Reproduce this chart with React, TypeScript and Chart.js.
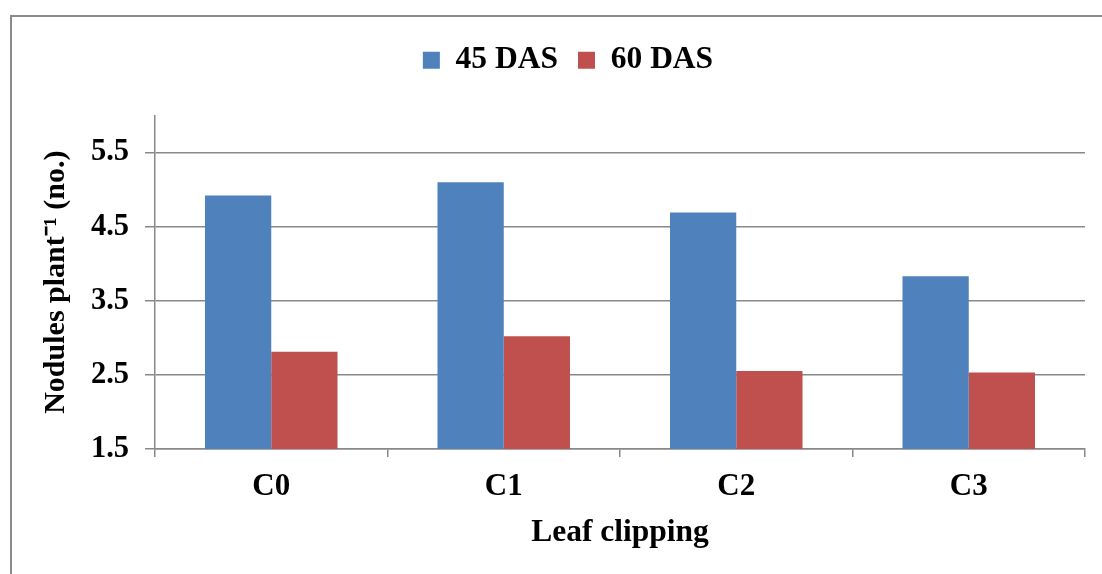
import React, { useEffect, useRef } from "react";
import { Chart, registerables } from "chart.js";

Chart.register(...registerables);

const categories = ["C0", "C1", "C2", "C3"];
const das45 = [4.92, 5.1, 4.69, 3.83];
const das60 = [2.81, 3.02, 2.55, 2.53];
const seriesLabels = ["45 DAS", "60 DAS"];
const yTickValues = [1.5, 2.5, 3.5, 4.5, 5.5];
const yMin = 1.5;
const yMax = 6;
const xTitle = "Leaf clipping";
const yTitle = "Nodules plant\u207B\u00B9 (no.)";

const FONT = "'Liberation Serif', 'Times New Roman', serif";
const GRID = "#888888";

export default function App() {
  const ref = useRef<HTMLCanvasElement | null>(null);

  useEffect(() => {
    document.body.style.margin = "0";
    const canvas = ref.current;
    if (!canvas) return;
    const chart = new Chart(canvas, {
      type: "bar",
      data: {
        labels: categories,
        datasets: [
          {
            label: seriesLabels[0],
            data: das45,
            backgroundColor: "#4F81BD",
            borderWidth: 0,
            categoryPercentage: 0.57,
            barPercentage: 1.0,
          },
          {
            label: seriesLabels[1],
            data: das60,
            backgroundColor: "#C0504D",
            borderWidth: 0,
            categoryPercentage: 0.57,
            barPercentage: 1.0,
          },
        ],
      },
      options: {
        responsive: false,
        animation: false,
        layout: { padding: { top: 7.5, left: 39, right: 39, bottom: 22.1 } },
        plugins: {
          legend: {
            position: "top",
            labels: {
              color: "#000",
              font: { family: FONT, size: 31.5, weight: "bold" },
              boxWidth: 17,
              boxHeight: 17,
              padding: 20,
            },
          },
          subtitle: {
            display: true,
            text: "",
            weight: 500,
            font: { size: 1, lineHeight: 1 },
            padding: { top: 0, bottom: 28.5 },
          } as any,
          tooltip: { enabled: false },
        },
        scales: {
          x: {
            grid: {
              display: true,
              drawOnChartArea: false,
              drawTicks: true,
              tickLength: 8,
              color: GRID,
              lineWidth: 1.5,
              offset: true,
            },
            border: { display: true, color: GRID, width: 1.5 },
            ticks: {
              color: "#000",
              font: { family: FONT, size: 31, weight: "bold" },
              padding: 11,
            },
            title: {
              display: true,
              text: xTitle,
              color: "#000",
              font: { family: FONT, size: 31.5, weight: "bold" },
              padding: { top: -2, bottom: 0 },
            },
          },
          y: {
            min: yMin,
            max: yMax,
            afterFit: (scale: any) => {
              scale.width = 104;
            },
            afterBuildTicks: (scale: any) => {
              scale.ticks = yTickValues.map((v) => ({ value: v }));
            },
            grid: {
              color: GRID,
              lineWidth: 1.5,
              drawTicks: true,
              tickLength: 10,
            },
            border: { display: true, color: GRID, width: 1.5 },
            ticks: {
              color: "#000",
              font: { family: FONT, size: 30.5, weight: "bold" },
              padding: 16,
              callback: (v: any) => Number(v).toFixed(1),
            },
            title: {
              display: true,
              text: yTitle,
              color: "#000",
              font: { family: FONT, size: 30, weight: "bold" },
              padding: { top: -13, bottom: 0 },
            },
          },
        },
      },
    });
    return () => chart.destroy();
  }, []);

  return (
    <div
      style={{
        position: "fixed",
        left: 0,
        top: 0,
        width: 1102,
        height: 574,
        overflow: "hidden",
        background: "#fff",
      }}
    >
      <div
        style={{
          position: "absolute",
          left: 10,
          top: 15,
          width: 1200,
          height: 700,
          borderLeft: "2px solid #8a8a8a",
          borderTop: "2px solid #8a8a8a",
        }}
      />
      <canvas
        ref={ref}
        width={1112}
        height={557}
        style={{ position: "absolute", left: 12, top: 17, width: 1112, height: 557 }}
      />
    </div>
  );
}
